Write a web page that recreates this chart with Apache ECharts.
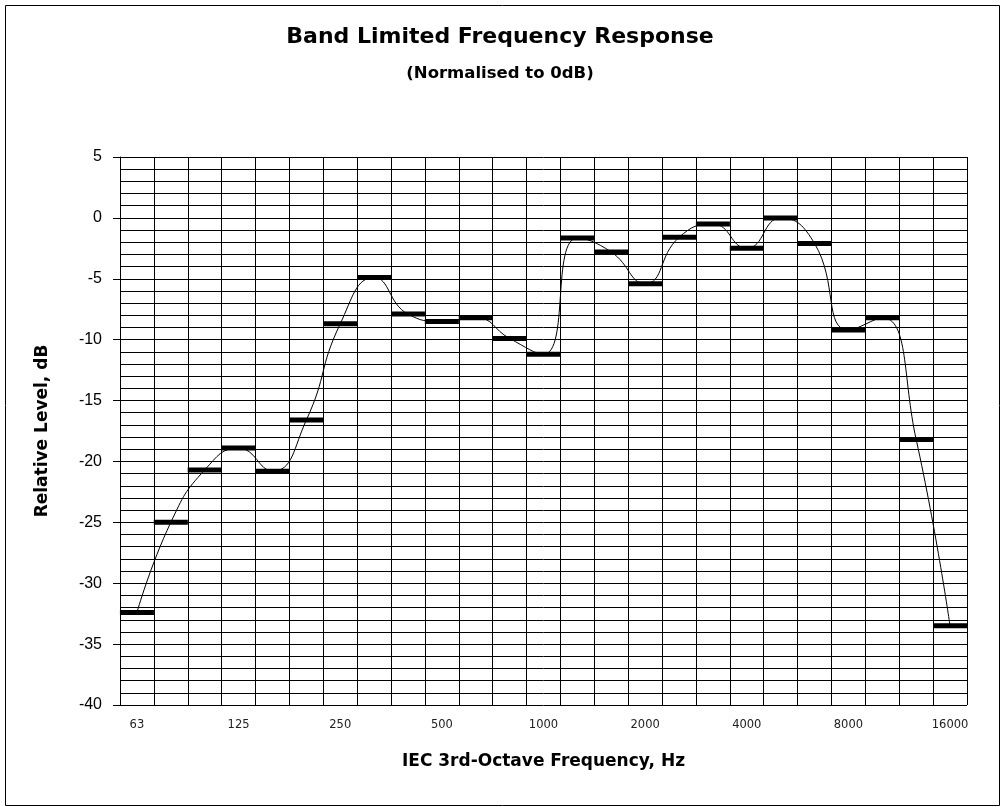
<!DOCTYPE html>
<html>
<head>
<meta charset="utf-8">
<script src="https://cdn.jsdelivr.net/npm/echarts@6/dist/echarts.min.js"></script>
<style>html,body{margin:0;padding:0;background:#fff}#c{width:1000px;height:807px}</style>
</head>
<body>
<div id="c"></div>
<script>
const categories = ['63','80','100','125','160','200','250','315','400','500','630','800','1000','1250','1600','2000','2500','3150','4000','5000','6300','8000','10000','12500','16000'];
const levels = [-32.4,-25.0,-20.7,-18.9,-20.8,-16.6,-8.7,-4.9,-7.9,-8.5,-8.2,-9.9,-11.2,-1.65,-2.8,-5.4,-1.6,-0.5,-2.5,0.0,-2.1,-9.2,-8.2,-18.2,-33.5];
const yTicks = {min: -40, max: 5, interval: 5};

const chart = echarts.init(document.getElementById('c'));
chart.setOption({
  animation: false,
  backgroundColor: '#fff',
  title: {
    text: 'Band Limited Frequency Response',
    subtext: '(Normalised to 0dB)',
    left: 'center', top: 21, itemGap: 17,
    textStyle: {fontFamily: 'DejaVu Sans', fontWeight: 'bold', fontSize: 22, color: '#000'},
    subtextStyle: {fontFamily: 'DejaVu Sans', fontWeight: 'bold', fontSize: 16.5, color: '#000'}
  },
  graphic: [{
    type: 'rect', left: 3, top: 3, shape: {width: 994, height: 800},
    style: {fill: 'none', stroke: '#000', lineWidth: 1}, silent: true
  }],
  grid: {left: 120, right: 33, top: 157, bottom: 102, containLabel: false},
  xAxis: {
    type: 'category', data: categories, boundaryGap: true,
    name: 'IEC 3rd-Octave Frequency, Hz', nameLocation: 'middle', nameGap: 48,
    nameTextStyle: {fontFamily: 'DejaVu Sans', fontWeight: 'bold', fontSize: 17, color: '#000'},
    axisLine: {show: true, lineStyle: {color: '#000', width: 1}},
    axisTick: {show: false},
    axisLabel: {interval: 2, margin: 14, fontFamily: 'DejaVu Sans', fontSize: 11.5, color: '#222'},
    splitLine: {show: true, interval: 0, lineStyle: {color: '#000', width: 1}}
  },
  yAxis: {
    type: 'value', min: yTicks.min, max: yTicks.max, interval: yTicks.interval,
    name: 'Relative Level, dB', nameLocation: 'middle', nameGap: 69, nameRotate: 90,
    nameTextStyle: {fontFamily: 'DejaVu Sans', fontWeight: 'bold', fontSize: 17, color: '#000'},
    axisLine: {show: true, lineStyle: {color: '#000', width: 1}},
    axisTick: {show: true, length: 7, lineStyle: {color: '#000'}},
    axisLabel: {margin: 18, fontFamily: 'Liberation Sans', fontSize: 16, color: '#000'},
    splitLine: {show: true, lineStyle: {color: '#000', width: 1}},
    minorTick: {show: false, splitNumber: 5},
    minorSplitLine: {show: true, lineStyle: {color: '#000', width: 1}}
  },
  series: [{
    type: 'line', data: levels, smooth: 0.5,
    showSymbol: false, symbol: 'none',
    lineStyle: {color: '#000', width: 1}, z: 3
  }, {
    type: 'scatter', data: levels, symbol: 'rect', symbolSize: [34, 5],
    itemStyle: {color: '#000', opacity: 1}, z: 4
  }]
});
</script>
</body>
</html>
